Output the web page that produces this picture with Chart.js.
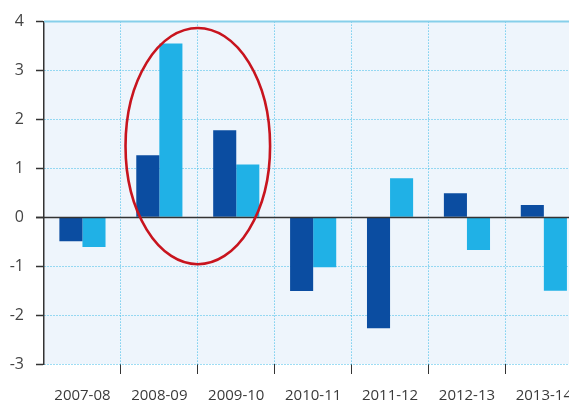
<!DOCTYPE html>
<html>
<head>
<meta charset="utf-8">
<script src="https://cdn.jsdelivr.net/npm/chart.js@4"></script>
<style>
  html, body { margin: 0; padding: 0; background: #ffffff; overflow: hidden; }
  #wrap { position: relative; width: 585px; height: 405px; }
</style>
</head>
<body>
<div id="wrap"><canvas id="c"></canvas></div>
<script>
const categories = ['2007-08', '2008-09', '2009-10', '2010-11', '2011-12', '2012-13', '2013-14'];
const seriesDark  = [-0.49, 1.27, 1.78, -1.51, -2.27, 0.49, 0.25];
const seriesLight = [-0.61, 3.55, 1.08, -1.02, 0.80, -0.67, -1.50];
const yTicks = [4, 3, 2, 1, 0, -1, -2, -3];
const highlight = { fromIndex: 0.5, toIndex: 2.5, top: 3.87, bottom: -0.96 };

const AXIS = '#333333';
const GRID = '#3cbbe8';
const PLOT_BG = '#eef5fc';

const decor = {
  id: 'decor',
  beforeDraw(chart) {
    const a = chart.chartArea, ctx = chart.ctx;
    ctx.save();
    ctx.fillStyle = PLOT_BG;
    ctx.fillRect(a.left, a.top, a.right - a.left, a.bottom - a.top);
    ctx.restore();
  },
  afterDatasetsDraw(chart) {
    const ctx = chart.ctx, a = chart.chartArea;
    const y = chart.scales.y, x = chart.scales.x;
    ctx.save();
    const yt = y.getPixelForValue(yTicks[0]);
    ctx.strokeStyle = '#86cfea';
    ctx.lineWidth = 2;
    ctx.beginPath(); ctx.moveTo(a.left, yt); ctx.lineTo(a.right, yt); ctx.stroke();
    const y0 = Math.round(y.getPixelForValue(0)) + 0.5;
    ctx.strokeStyle = AXIS;
    ctx.lineWidth = 1.5;
    ctx.beginPath(); ctx.moveTo(a.left - 8, y0); ctx.lineTo(a.right, y0); ctx.stroke();
    const x1 = x.getPixelForValue(highlight.fromIndex), x2 = x.getPixelForValue(highlight.toIndex);
    const yA = y.getPixelForValue(highlight.top), yB = y.getPixelForValue(highlight.bottom);
    ctx.strokeStyle = '#c8141e';
    ctx.lineWidth = 2.6;
    ctx.beginPath();
    ctx.ellipse((x1 + x2) / 2, (yA + yB) / 2, (x2 - x1) / 2 * 0.94, (yB - yA) / 2, 0, 0, Math.PI * 2);
    ctx.stroke();
    ctx.restore();
  }
};

new Chart(document.getElementById('c'), {
  type: 'bar',
  data: {
    labels: categories,
    datasets: [
      { data: seriesDark, backgroundColor: '#0b4da1', borderWidth: 0 },
      { data: seriesLight, backgroundColor: '#20b1e6', borderWidth: 0 }
    ]
  },
  options: {
    responsive: true,
    maintainAspectRatio: false,
    animation: false,
    devicePixelRatio: 1,
    layout: { padding: { top: 20, right: 0, left: 0, bottom: 0 } },
    plugins: { legend: { display: false }, tooltip: { enabled: false }, title: { display: false } },
    datasets: { bar: { categoryPercentage: 0.6, barPercentage: 1.0 } },
    scales: {
      x: {
        grid: {
          color: (c) => c.index === 0 ? 'rgba(0,0,0,0)' : GRID,
          lineWidth: 1, tickLength: 10,
          tickColor: (c) => c.index === 0 ? 'rgba(0,0,0,0)' : AXIS,
          tickWidth: 1, tickBorderDash: [], offset: true
        },
        border: { display: false, dash: [1, 2] },
        ticks: { color: '#3a3a3a', font: { family: 'Open Sans', size: 15 }, padding: 13, maxRotation: 0, autoSkip: false },
        afterFit(s) { s.height = 41; }
      },
      y: {
        min: -3, max: 4,
        afterBuildTicks(s) { s.ticks = yTicks.map(v => ({ value: v })); },
        grid: {
          color: (c) => (c.tick && (c.tick.value === 0 || c.tick.value === 4)) ? 'rgba(0,0,0,0)' : GRID,
          lineWidth: 1, tickLength: 8, tickColor: AXIS, tickWidth: 1.5, tickBorderDash: []
        },
        border: { display: true, color: AXIS, width: 1.5, dash: [1, 2] },
        ticks: { color: '#444444', font: { family: 'Open Sans', size: 16 }, padding: 12 },
        afterFit(s) { s.width = 44; }
      }
    }
  },
  plugins: [decor]
});
</script>
</body>
</html>
